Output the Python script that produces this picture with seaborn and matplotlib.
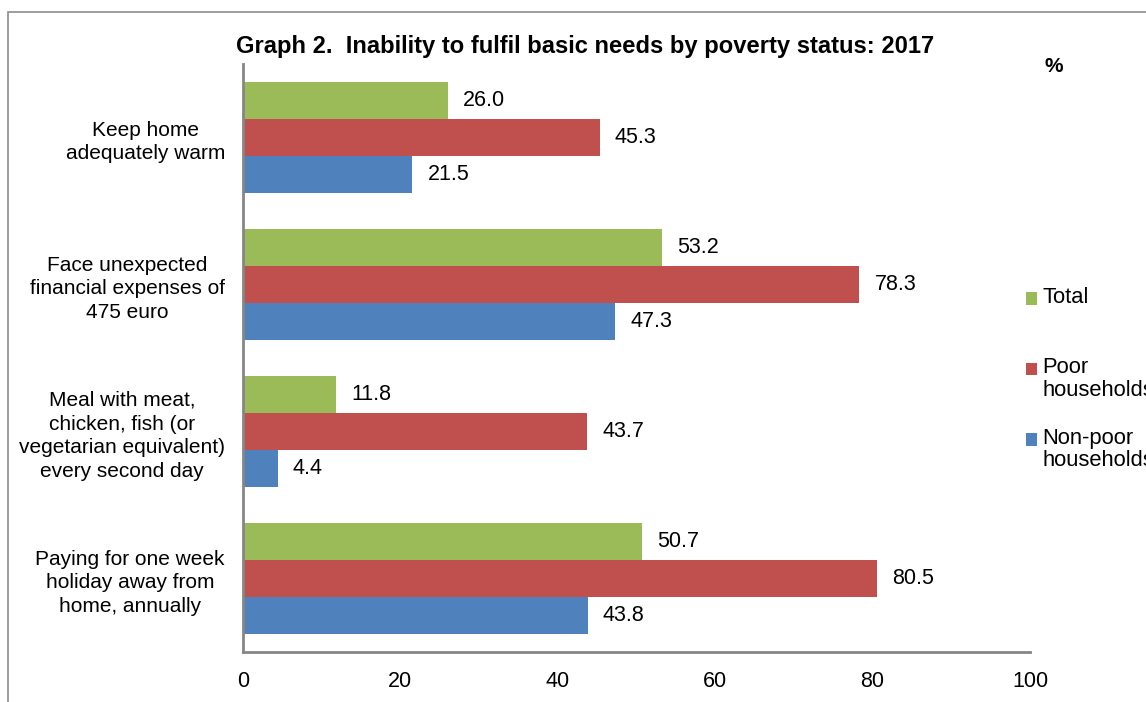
import matplotlib
matplotlib.use("Agg")
import matplotlib.pyplot as plt
import matplotlib.patches as mpatches
import seaborn as sns
import pandas as pd

categories = [
    "Keep home\nadequately warm",
    "Face unexpected\nfinancial expenses of\n475 euro",
    "Meal with meat,\nchicken, fish (or\nvegetarian equivalent)\nevery second day",
    "Paying for one week\nholiday away from\nhome, annually",
]
series = ["Total", "Poor households", "Non-poor households"]
legend_labels = ["Total\n", "Poor\nhouseholds", "Non-poor\nhouseholds"]
total = [26.0, 53.2, 11.8, 50.7]
poor = [45.3, 78.3, 43.7, 80.5]
nonpoor = [21.5, 47.3, 4.4, 43.8]
colors = ["#9BBB59", "#C0504D", "#4F81BD"]
xticks = [0, 20, 40, 60, 80, 100]

rows = []
for s, vals in zip(series, [total, poor, nonpoor]):
    for c, v in zip(categories, vals):
        rows.append({"category": c, "series": s, "value": v})
df = pd.DataFrame(rows)

sns.set_theme(style="white")
plt.rcParams["font.family"] = ["Liberation Sans", "DejaVu Sans"]
plt.rcParams["text.color"] = "black"
plt.rcParams["xtick.color"] = "black"
plt.rcParams["ytick.color"] = "black"

FS = 15.5

fig = plt.figure(figsize=(11.46, 7.02), dpi=100)
ax = fig.add_axes([243 / 1146, 1 - 652 / 702, (1030 - 243) / 1146, (652 - 64) / 702])

sns.barplot(data=df, y="category", x="value", hue="series", order=categories,
            hue_order=series, palette=colors, orient="h", width=0.755, gap=0,
            saturation=1, ax=ax, edgecolor="none")

for cont in ax.containers:
    ax.bar_label(cont, fmt="%.1f", padding=11, fontsize=FS, color="black")

ax.set_xlim(0, 100)
ax.set_ylim(3.5, -0.5)
ax.set_xticks(xticks)
ax.set_xticklabels([str(t) for t in xticks], fontsize=FS, color="black")
ax.tick_params(axis="x", length=0, pad=14)
ax.tick_params(axis="y", length=0, pad=13)
for lab in ax.get_yticklabels():
    lab.set_fontsize(15)
    lab.set_color("black")
    lab.set_multialignment("center")
    lab.set_linespacing(1.31)
ax.set_xlabel("")
ax.set_ylabel("")
for side in ["top", "right"]:
    ax.spines[side].set_visible(False)
for side in ["left", "bottom"]:
    ax.spines[side].set_color("#868686")
    ax.spines[side].set_linewidth(2)

handles, _ = ax.get_legend_handles_labels()
leg = ax.legend(handles, legend_labels, loc="upper left",
                bbox_to_anchor=(1026 / 1146, 1 - 287 / 702),
                bbox_transform=fig.transFigure, frameon=False, fontsize=15.8,
                handlelength=0.5, handleheight=0.5, handletextpad=0.25,
                labelspacing=1.22, borderaxespad=0, borderpad=0)
for t in leg.get_texts():
    t.set_linespacing(1.1)
    t.set_color("black")
for h in leg.legend_handles:
    h.set_y(h.get_y() + 7.5)

fig.text(585 / 1146, 1 - 46 / 702, "Graph 2.  Inability to fulfil basic needs by poverty status: 2017",
         ha="center", va="center", fontsize=17.1, fontweight="bold", color="black")
fig.text(1054 / 1146, 1 - 67 / 702, "%", ha="center", va="center", fontsize=15,
         fontweight="bold", color="black")

fig.patches.append(mpatches.Rectangle((8 / 1146, -0.1), 1.2, 1 - 12 / 702 + 0.1,
                                      transform=fig.transFigure, fill=False,
                                      edgecolor="#8C8C8C", linewidth=1.2))

fig.savefig("out.png", dpi=100)
